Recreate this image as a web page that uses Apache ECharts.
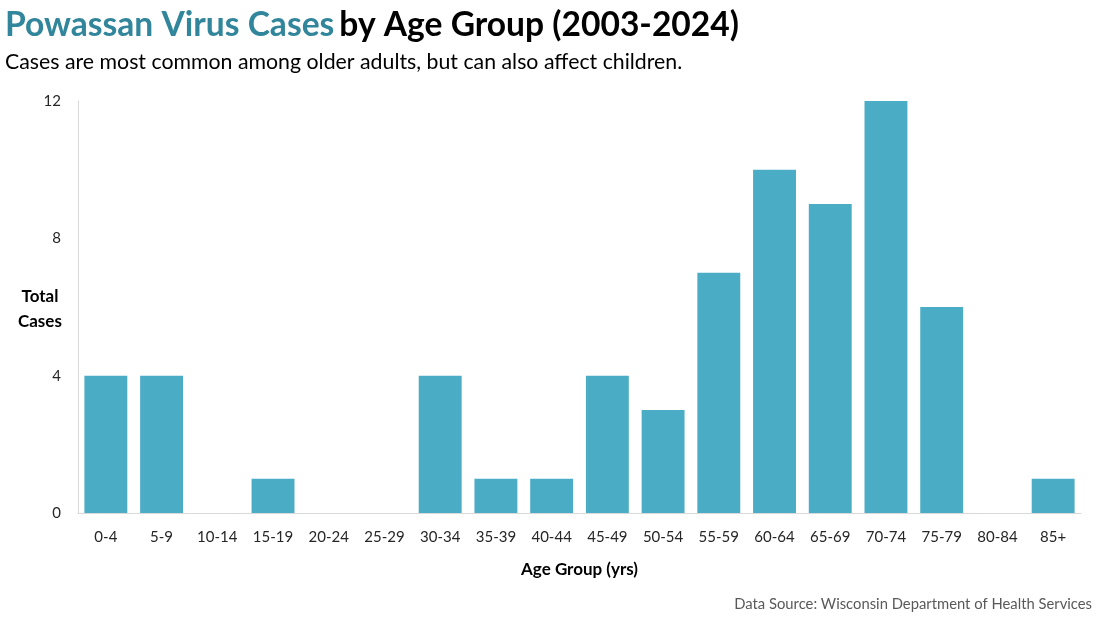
<!DOCTYPE html>
<html><head><meta charset="utf-8">
<script src="https://cdn.jsdelivr.net/npm/echarts@6/dist/echarts.min.js"></script>
<style>html,body{margin:0;padding:0;background:#fff}#c{width:1100px;height:619px}</style>
</head><body><div id="c"></div>
<script>
const categories = ['0-4','5-9','10-14','15-19','20-24','25-29','30-34','35-39','40-44','45-49','50-54','55-59','60-64','65-69','70-74','75-79','80-84','85+'];
const cases = [4,4,0,1,0,0,4,1,1,4,3,7,10,9,12,6,0,1];
const yTicks = [0,4,8,12];
const F = 'Lato, "Open Sans", sans-serif';
const chart = echarts.init(document.getElementById('c'));
chart.setOption({
  animation:false,
  title:[{
    text:'{a|Powassan Virus Cases} {b|by Age Group (2003-2024)}',
    left:5, top:8, padding:0,
    textStyle:{rich:{
      a:{fontFamily:F,fontWeight:'bold',fontSize:33.6,color:'#31869b'},
      b:{fontFamily:F,fontWeight:'bold',fontSize:33.6,color:'#000'}
    }}
  },{
    text:'Cases are most common among older adults, but can also affect children.',
    left:5, top:52, padding:0,
    textStyle:{fontFamily:F,fontWeight:'normal',fontSize:21.3,color:'#000'}
  },{
    text:'Data Source: Wisconsin Department of Health Services',
    right:8, top:597, padding:0,
    textStyle:{fontFamily:F,fontWeight:'normal',fontSize:14.8,color:'#595959'}
  }],
  graphic:[{
    type:'text', left:18, top:284,
    style:{text:'Total\nCases', x:0, y:0, textAlign:'center',
      font:'bold 17px '+F, fill:'#000', lineHeight:25}
  }],
  grid:{left:78,right:19,top:101,bottom:106},
  xAxis:{
    type:'category', data:categories,
    name:'Age Group (yrs)', nameLocation:'middle', nameGap:48,
    nameTextStyle:{fontFamily:F,fontWeight:'bold',fontSize:17,color:'#000'},
    axisLine:{lineStyle:{color:'#d9d9d9',width:1}},
    axisTick:{show:false},
    axisLabel:{fontFamily:F,fontSize:15,color:'#262626',margin:17,interval:0}
  },
  yAxis:{
    type:'value', min:0, max:12, interval:4,
    axisLine:{show:true,lineStyle:{color:'#d9d9d9',width:1}},
    axisTick:{show:false},
    splitLine:{show:false},
    axisLabel:{fontFamily:F,fontSize:15,color:'#262626',margin:17,
      formatter:v=>yTicks.includes(v)?String(v):''}
  },
  series:[{
    type:'bar', data:cases, barCategoryGap:'23%',
    itemStyle:{color:'#4bacc6'}
  }]
});
</script></body></html>
